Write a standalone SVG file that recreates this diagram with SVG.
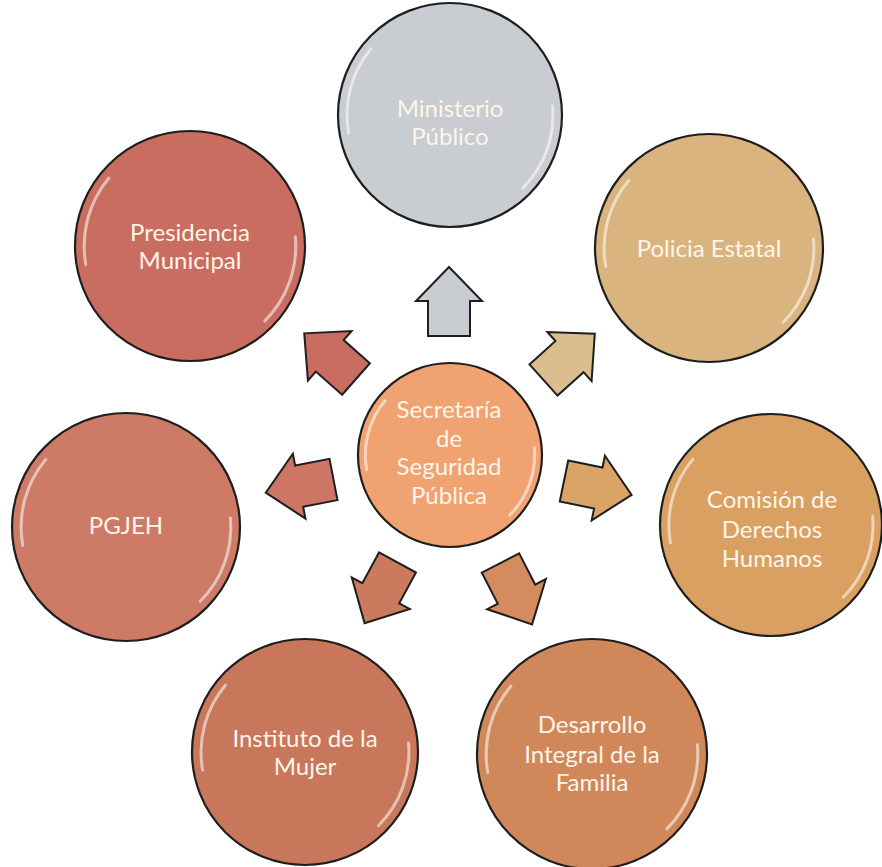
<svg xmlns="http://www.w3.org/2000/svg" xmlns:xlink="http://www.w3.org/1999/xlink" width="882" height="867" viewBox="0 0 882 867">
<style>
.node{stroke:#1e1e1e;stroke-width:2.2}
.lbl{font-family:Lato,"Open Sans","Liberation Sans",sans-serif;font-size:24px;fill:#fdf5ea;text-anchor:middle}
.arr{stroke:#1e1e1e;stroke-width:2;stroke-linejoin:miter}
.hl{fill:none;stroke:#ffffff;stroke-opacity:0.55;stroke-width:3;stroke-linecap:round}
</style>
<defs>
<polygon id="arrow" points="0,-21 35,-21 35,-33 69,0 35,33 35,21 0,21"/>
<g id="gloss">
<path class="hl" vector-effect="non-scaling-stroke" d="M-70.5,-59.1 A92,92 0 0 0 -90.6,16"/>
<path class="hl" vector-effect="non-scaling-stroke" d="M91.6,-8 A92,92 0 0 1 65.1,65.1"/>
</g>
</defs>
<rect width="882" height="867" fill="#ffffff"/>

<g id="connectors">
<use xlink:href="#arrow" class="arr" fill="#c9ccd0" transform="translate(449,336) rotate(-90)"/>
<use xlink:href="#arrow" class="arr" fill="#c96d60" transform="translate(356,379) rotate(-138.6)"/>
<use xlink:href="#arrow" class="arr" fill="#dcbd8e" transform="translate(543.5,380) rotate(-42)"/>
<use xlink:href="#arrow" class="arr" fill="#cd7666" transform="translate(333.5,479.5) rotate(169)"/>
<use xlink:href="#arrow" class="arr" fill="#daa466" transform="translate(564,481) rotate(11.6)"/>
<use xlink:href="#arrow" class="arr" fill="#cc7a5e" transform="translate(397.5,562.5) rotate(118.5)"/>
<use xlink:href="#arrow" class="arr" fill="#d48c5e" transform="translate(500.5,563) rotate(62.8)"/>
</g>

<g id="ministerio">
<circle class="node" cx="450" cy="115" r="112" fill="#c9ccd0"/>
<use xlink:href="#gloss" transform="translate(450,115) scale(1.12)"/>
<text class="lbl" x="450" y="117">Ministerio</text>
<text class="lbl" x="450" y="145">Público</text>
</g>

<g id="presidencia">
<circle class="node" cx="190" cy="246" r="115" fill="#c96d60"/>
<use xlink:href="#gloss" transform="translate(190,246) scale(1.15)"/>
<text class="lbl" x="190" y="241">Presidencia</text>
<text class="lbl" x="190" y="269">Municipal</text>
</g>

<g id="policia">
<circle class="node" cx="709" cy="248" r="114" fill="#d9b47f"/>
<use xlink:href="#gloss" transform="translate(709,248) scale(1.14)"/>
<text class="lbl" x="709" y="257">Policia Estatal</text>
</g>

<g id="pgjeh">
<circle class="node" cx="126" cy="527" r="114" fill="#cd7a66"/>
<use xlink:href="#gloss" transform="translate(126,527) scale(1.14)"/>
<text class="lbl" x="126" y="534">PGJEH</text>
</g>

<g id="comision">
<circle class="node" cx="771" cy="525" r="111" fill="#d9a062"/>
<use xlink:href="#gloss" transform="translate(771,525) scale(1.11)"/>
<text class="lbl" x="772" y="508">Comisión de</text>
<text class="lbl" x="772" y="538">Derechos</text>
<text class="lbl" x="772" y="567">Humanos</text>
</g>

<g id="instituto">
<circle class="node" cx="305" cy="752" r="113" fill="#c8775b"/>
<use xlink:href="#gloss" transform="translate(305,752) scale(1.13)"/>
<text class="lbl" x="305" y="747">Instituto de la</text>
<text class="lbl" x="305" y="775">Mujer</text>
</g>

<g id="desarrollo">
<circle class="node" cx="592" cy="754" r="115" fill="#d0885b"/>
<use xlink:href="#gloss" transform="translate(592,754) scale(1.15)"/>
<text class="lbl" x="592" y="733">Desarrollo</text>
<text class="lbl" x="592" y="763">Integral de la</text>
<text class="lbl" x="592" y="791">Familia</text>
</g>

<g id="secretaria">
<circle class="node" cx="450" cy="455" r="92" fill="#f1a271"/>
<use xlink:href="#gloss" transform="translate(450,455) scale(0.92)"/>
<text class="lbl" x="449" y="418">Secretaría</text>
<text class="lbl" x="449" y="447">de</text>
<text class="lbl" x="449" y="475">Seguridad</text>
<text class="lbl" x="449" y="504">Pública</text>
</g>
</svg>
